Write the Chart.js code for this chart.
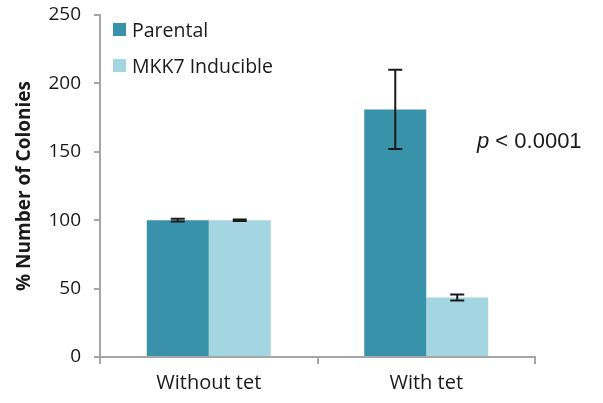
<!DOCTYPE html>
<html>
<head>
<meta charset="utf-8">
<script src="https://cdn.jsdelivr.net/npm/chart.js@4.4.0/dist/chart.umd.min.js"></script>
<style>
  body { margin: 0; background: #fff; }
  canvas { display: block; }
</style>
</head>
<body>
<canvas id="myChart" width="603" height="403"></canvas>
<script>
// chart data
var categories = ['Without tet', 'With tet'];
var seriesNames = ['Parental', 'MKK7 Inducible'];
var parental = [100, 181];
var parentalErr = [1, 29];
var inducible = [100, 43.5];
var inducibleErr = [0.6, 2.2];
var yTicks = [0, 50, 100, 150, 200, 250];
var pLabel = 'p';
var pRest = ' < 0.0001';

var DARK = '#3892a9';
var LIGHT = '#a4d6e2';
var AXIS = '#a6a6a6';
var FONT = '"Open Sans", Lato, sans-serif';

// error bars drawn from the scale
var errorBars = {
  id: 'errorBars',
  afterDatasetsDraw: function (chart) {
    var ctx = chart.ctx;
    var y = chart.scales.y;
    chart.data.datasets.forEach(function (ds, i) {
      var meta = chart.getDatasetMeta(i);
      meta.data.forEach(function (bar, j) {
        var v = ds.data[j], e = ds.errors[j];
        var top = y.getPixelForValue(v + e);
        var bot = y.getPixelForValue(v - e);
        ctx.save();
        ctx.strokeStyle = '#1a1a1a';
        ctx.lineWidth = 2;
        ctx.beginPath();
        ctx.moveTo(bar.x, top); ctx.lineTo(bar.x, bot);
        ctx.moveTo(bar.x - 7, top); ctx.lineTo(bar.x + 7, top);
        ctx.moveTo(bar.x - 7, bot); ctx.lineTo(bar.x + 7, bot);
        ctx.stroke();
        ctx.restore();
      });
    });
  }
};

// legend inside the plot + p value note
var extras = {
  id: 'extras',
  afterDraw: function (chart) {
    var ctx = chart.ctx;
    var a = chart.chartArea;
    ctx.save();
    ctx.textBaseline = 'middle';
    ctx.font = '19.5px ' + FONT;
    chart.data.datasets.forEach(function (ds, i) {
      var cy = a.top + 15 + i * 36;
      ctx.fillStyle = ds.backgroundColor;
      ctx.fillRect(a.left + 13, cy - 7, 13, 13);
      ctx.fillStyle = '#1a1a1a';
      ctx.fillText(ds.label, a.left + 32, cy + 1);
    });
    var y = chart.scales.y.getPixelForValue(157);
    var x = a.right - 58;
    ctx.font = 'italic 22px "Liberation Sans", Arial, sans-serif';
    ctx.fillText(pLabel, x, y);
    var w = ctx.measureText(pLabel).width;
    ctx.font = '22px "Liberation Sans", Arial, sans-serif';
    ctx.fillText(pRest, x + w, y);
    ctx.restore();
  }
};

var ctx = document.getElementById('myChart').getContext('2d');
var myChart = new Chart(ctx, {
  type: 'bar',
  data: {
    labels: categories,
    datasets: [{
      label: seriesNames[0],
      data: parental,
      errors: parentalErr,
      backgroundColor: DARK,
      borderWidth: 0
    }, {
      label: seriesNames[1],
      data: inducible,
      errors: inducibleErr,
      backgroundColor: LIGHT,
      borderWidth: 0
    }]
  },
  options: {
    responsive: false,
    animation: false,
    layout: { padding: { top: 15, right: 68, left: 0, bottom: 0 } },
    plugins: {
      legend: { display: false },
      tooltip: { enabled: false }
    },
    datasets: {
      bar: { categoryPercentage: 0.57, barPercentage: 1 }
    },
    scales: {
      x: {
        grid: { drawOnChartArea: false, color: AXIS, lineWidth: 2, tickLength: 7, offset: true },
        border: { color: AXIS, width: 2 },
        ticks: { color: '#1a1a1a', font: { family: FONT, size: 20 }, padding: 7 },
        afterFit: function (s) { s.height = 46; s.paddingLeft = 0; s.paddingRight = 0; }
      },
      y: {
        min: 0,
        max: 250,
        afterBuildTicks: function (s) { s.ticks = yTicks.map(function (v) { return { value: v }; }); },
        grid: { drawOnChartArea: false, color: AXIS, lineWidth: 2, tickLength: 6 },
        border: { color: AXIS, width: 2 },
        ticks: { color: '#1a1a1a', font: { family: FONT, size: 19 }, padding: 13 },
        title: {
          display: true,
          text: '% Number of Colonies',
          color: '#1a1a1a',
          font: { family: FONT, size: 19, weight: 'bold' },
          padding: { top: 13, bottom: 0 }
        },
        afterFit: function (s) { s.width = 100; s.paddingTop = 0; s.paddingBottom = 0; }
      }
    }
  },
  plugins: [errorBars, extras]
});
</script>
</body>
</html>
